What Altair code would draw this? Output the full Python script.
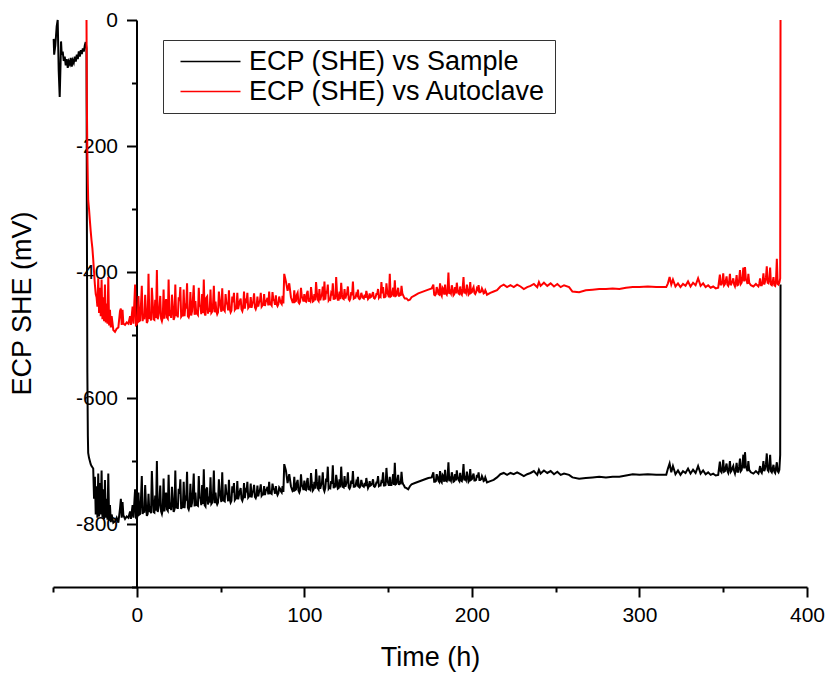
import altair as alt
import pandas as pd

FONT = "Liberation Sans"
SERIES = ["ECP (SHE) vs Sample", "ECP (SHE) vs Autoclave"]
COLORS = ["#000000", "#ff0000"]

x_ticks = [-50, 0, 50, 100, 150, 200, 250, 300, 350, 400]
y_ticks = [-900, -800, -700, -600, -500, -400, -300, -200, -100, 0]

# --- pre-heating part (sample electrode only) ---
hours_pre = [-49.6, -49.3, -48.6, -47.8, -47.2, -46.6, -46.0, -45.5, -45.2, -44.8, -44.2, -43.6,
             -43.0, -42.4, -41.8, -41.2, -40.6, -40.0, -39.4, -38.8, -38.2, -37.6, -37.0, -36.4,
             -35.8, -35.2, -34.6, -34.0, -33.4, -32.8, -32.2, -31.6, -31.0, -30.5]
sample_pre = [-30, -55, -40, -10, 0, -80, -122, -70, -34, -55, -50, -65,
              -58, -72, -62, -76, -66, -70, -60, -74, -64, -68, -58, -66,
              -55, -62, -50, -58, -48, -54, -45, -50, -40, -35]

# --- drop (-30 h .. 0 h) ---
hours_drop = [-30.0, -29.8, -29.5, -29.2, -29.0, -28.5, -28.0, -27.5, -27.0, -26.5,
              -26.0, -25.5, -25.0, -24.5, -24.0, -23.5, -23.0, -22.5, -22.0, -21.5,
              -21.0, -20.5, -20.0, -19.5, -19.0, -18.5, -18.0, -17.5, -17.0, -16.5,
              -16.0, -15.5, -15.0, -14.0, -13.0, -12.0, -11.0, -10.0, -9.5, -9.0,
              -8.5, -8.0, -7.0, -6.0, -5.0, -4.0, -3.5, -2.5, -2.0, -1.0, -0.5, 0.0]
sample_drop = [-45, -300, -560, -660, -687, -695, -700, -705, -708, -710,
               -712, -760, -725, -785, -740, -790, -720, -788, -735, -785,
               -715, -790, -745, -792, -730, -790, -760, -793, -720, -795,
               -770, -797, -785, -798, -796, -790, -798, -775, -760, -790,
               -765, -786, -792, -788, -790, -780, -792, -770, -790, -745, -790, -792]
autoclave_drop = [0, -130, -210, -260, -286, -300, -318, -335, -350, -362,
                  -380, -400, -420, -435, -440, -455, -410, -465, -425, -470,
                  -412, -475, -440, -478, -420, -480, -450, -482, -408, -485,
                  -460, -488, -470, -492, -495, -490, -488, -462, -458, -484,
                  -460, -482, -484, -480, -482, -470, -484, -455, -482, -420, -484, -483]

# --- 1 h .. 92 h (hourly readings) ---
hours_early = [1, 2, 3, 4, 5, 6, 7, 8, 9, 10, 11, 12, 13, 14, 15, 16, 17, 18, 19, 20,
               21, 22, 23, 24, 25, 26, 27, 28, 29, 30, 31, 32, 33, 34, 35, 36, 37, 38, 39, 40,
               41, 42, 43, 44, 45, 46, 47, 48, 49, 50, 51, 52, 53, 54, 55, 56, 57, 58, 59, 60,
               61, 62, 63, 64, 65, 66, 67, 68, 69, 70, 71, 72, 73, 74, 75, 76, 77, 78, 79, 80,
               81, 82, 83, 84, 85, 86, 87, 88, 89, 90, 91, 92]
sample_early = [-750, -784, -724, -778, -738, -787, -752, -772, -716, -781,
                -755, -700, -774, -739, -784, -728, -763, -777, -722, -766,
                -741, -781, -715, -770, -744, -729, -773, -733, -758, -717,
                -777, -736, -766, -720, -750, -770, -724, -759, -738, -713,
                -772, -742, -762, -726, -766, -715, -750, -769, -729, -758,
                -718, -763, -737, -752, -730, -766, -740, -735, -760, -732,
                -754, -743, -763, -735, -747, -733, -756, -736, -750, -738,
                -759, -739, -749, -737, -753, -740, -747, -741, -733, -751,
                -736, -745, -740, -754, -742, -748, -740, -705, -715, -735,
                -721, -740]
autoclave_early = [-438, -477, -422, -467, -436, -481, -403, -470, -425, -475,
                   -444, -397, -469, -438, -478, -428, -457, -472, -412, -461,
                   -436, -476, -420, -465, -440, -424, -469, -428, -453, -418,
                   -472, -432, -462, -421, -446, -466, -425, -455, -435, -412,
                   -469, -439, -458, -428, -463, -422, -447, -467, -431, -456,
                   -426, -460, -435, -450, -429, -464, -439, -433, -458, -433,
                   -452, -442, -462, -431, -446, -433, -455, -440, -450, -434,
                   -459, -439, -448, -433, -453, -435, -447, -441, -431, -451,
                   -432, -445, -437, -454, -439, -449, -438, -403, -415, -430,
                   -418, -440]

# --- 0.5 h .. 87.5 h (readings between the hourly ones) ---
hours_early_b = [0.5, 1.5, 2.5, 3.5, 4.5, 5.5, 6.5, 7.5, 8.5, 9.5, 10.5, 11.5, 12.5, 13.5, 14.5,
                 15.5, 16.5, 17.5, 18.5, 19.5, 20.5, 21.5, 22.5, 23.5, 24.5, 25.5, 26.5, 27.5,
                 28.5, 29.5, 30.5, 31.5, 32.5, 33.5, 34.5, 35.5, 36.5, 37.5, 38.5, 39.5, 40.5,
                 41.5, 42.5, 43.5, 44.5, 45.5, 46.5, 47.5, 48.5, 49.5, 50.5, 51.5, 52.5, 53.5,
                 54.5, 55.5, 56.5, 57.5, 58.5, 59.5, 60.5, 61.5, 62.5, 63.5, 64.5, 65.5, 66.5,
                 67.5, 68.5, 69.5, 70.5, 71.5, 72.5, 73.5, 74.5, 75.5, 76.5, 77.5, 78.5, 79.5,
                 80.5, 81.5, 82.5, 83.5, 84.5, 85.5, 86.5, 87.5]
sample_early_b = [-786, -785, -760, -784, -782, -770, -784, -781, -783, -755, -782, -779, -781,
                  -765, -780, -777, -780, -750, -779, -776, -778, -762, -777, -775, -776, -752,
                  -776, -773, -775, -760, -774, -771, -773, -748, -772, -770, -771, -758, -770,
                  -768, -770, -745, -769, -766, -768, -755, -767, -765, -766, -748, -765, -762,
                  -764, -752, -764, -761, -763, -750, -762, -759, -761, -748, -760, -758, -759,
                  -750, -758, -756, -758, -748, -757, -755, -756, -746, -755, -753, -754, -745,
                  -753, -751, -752, -744, -752, -750, -751, -744, -750, -749]
autoclave_early_b = [-479, -478, -452, -478, -475, -462, -478, -474, -477, -448, -476, -473,
                     -475, -458, -474, -472, -474, -443, -474, -470, -473, -456, -472, -470,
                     -472, -446, -471, -469, -470, -455, -470, -467, -469, -443, -468, -466,
                     -468, -453, -467, -465, -466, -441, -466, -463, -465, -452, -464, -462,
                     -464, -444, -463, -460, -462, -450, -461, -459, -461, -448, -460, -458,
                     -459, -446, -459, -456, -458, -449, -457, -455, -457, -447, -456, -455,
                     -455, -446, -455, -452, -454, -445, -453, -451, -453, -444, -452, -451,
                     -451, -445, -451, -450]

# --- 93 h .. 160 h ---
hours_mid = [93, 94, 95, 96, 97, 98, 99, 100, 101, 102, 103, 104, 105, 106, 107, 108, 109, 110,
             111, 112, 113, 114, 115, 116, 117, 118, 119, 120, 121, 122, 123, 124, 125, 126, 127,
             128, 129, 130, 131, 132, 133, 134, 135, 136, 137, 138, 139, 140, 141, 142, 143, 144,
             145, 146, 147, 148, 149, 150, 151, 152, 153, 154, 155, 156, 157, 158, 159, 160]
sample_mid = [-748, -725, -745, -730, -750, -721, -741, -731, -746, -727,
              -743, -719, -747, -733, -713, -743, -723, -738, -718, -748,
              -728, -709, -742, -732, -707, -739, -722, -744, -729, -709,
              -741, -724, -736, -718, -744, -731, -716, -741, -733, -725,
              -742, -730, -740, -735, -727, -743, -732, -738, -729, -741,
              -734, -724, -739, -732, -718, -739, -711, -735, -725, -738,
              -721, -703, -736, -722, -732, -717, -737, -742]
autoclave_mid = [-448, -429, -446, -433, -450, -425, -442, -435, -447, -430,
                 -444, -424, -447, -435, -416, -444, -427, -439, -423, -415,
                 -430, -420, -443, -434, -418, -440, -408, -444, -431, -417,
                 -442, -427, -437, -423, -445, -432, -415, -441, -435, -428,
                 -443, -433, -441, -436, -430, -443, -434, -439, -432, -442,
                 -435, -427, -439, -416, -424, -440, -418, -436, -403, -438,
                 -425, -413, -437, -425, -433, -422, -437, -442]

hours_mid_b = [93.5, 94.5, 95.5, 96.5, 97.5, 98.5, 99.5, 100.5, 101.5, 102.5, 103.5, 104.5,
               105.5, 106.5, 107.5, 108.5, 109.5, 110.5, 111.5, 112.5, 113.5, 114.5, 115.5,
               116.5, 117.5, 118.5, 119.5, 120.5, 121.5, 122.5, 123.5, 124.5, 125.5, 126.5,
               127.5, 128.5, 129.5, 130.5, 131.5, 132.5, 133.5, 134.5, 135.5, 136.5, 137.5,
               138.5, 139.5, 140.5, 141.5, 142.5, 143.5, 144.5, 145.5, 146.5, 147.5, 148.5,
               149.5, 150.5, 151.5, 152.5, 153.5, 154.5, 155.5, 156.5, 157.5, 158.5, 159.5]
sample_mid_b = [-747, -746, -735, -747, -746, -738, -746, -745, -733, -746, -745, -736,
                -745, -744, -732, -745, -744, -735, -744, -743, -733, -744, -743,
                -736, -743, -742, -732, -743, -742, -735, -742, -741, -733, -742,
                -741, -736, -741, -740, -736, -741, -740, -737, -741, -740, -736,
                -740, -739, -735, -740, -739, -734, -740, -739, -733, -739, -738,
                -731, -739, -738, -732, -738, -737, -730, -738, -737, -733, -739]
autoclave_mid_b = [-448, -447, -436, -448, -447, -439, -447, -446, -434, -447, -446, -437,
                   -446, -445, -433, -446, -445, -436, -445, -444, -434, -445, -444,
                   -437, -444, -443, -433, -444, -443, -436, -443, -442, -434, -443,
                   -442, -437, -442, -441, -437, -442, -441, -438, -442, -441, -437,
                   -441, -440, -436, -441, -440, -435, -441, -440, -434, -440, -439,
                   -432, -440, -439, -433, -439, -438, -431, -439, -438, -434, -440]

# --- calm stretch 161 h .. 176 h ---
hours_calm = [161, 162, 163, 164, 166, 168, 170, 172, 174, 176]
sample_calm = [-743, -745, -740, -737, -735, -733, -731, -729, -727, -726]
autoclave_calm = [-442, -445, -444, -440, -437, -434, -432, -430, -428, -426]

# --- 177 h .. 209 h ---
hours_step = [177, 178, 179, 180, 181, 182, 183, 184, 185, 186, 187, 188, 189, 190, 191, 192, 193,
              194, 195, 196, 197, 198, 199, 200, 201, 202, 203, 204, 205, 206, 207, 208, 209]
sample_step = [-718, -733, -721, -731, -716, -734, -724, -714, -732, -702, -728, -718, -733,
               -721, -715, -730, -719, -732, -705, -727, -717, -733, -713, -729, -720, -731,
               -722, -718, -730, -724, -732, -726, -734]
autoclave_step = [-420, -437, -424, -435, -418, -438, -427, -420, -436, -401, -431, -421, -437,
                  -424, -417, -434, -423, -436, -408, -430, -420, -436, -416, -432, -424, -435,
                  -426, -421, -432, -426, -434, -429, -436]

hours_step_b = [177.5, 178.5, 179.5, 180.5, 181.5, 182.5, 183.5, 184.5, 185.5, 186.5, 187.5,
                188.5, 189.5, 190.5, 191.5, 192.5, 193.5, 194.5, 195.5, 196.5, 197.5, 198.5,
                199.5, 200.5, 201.5, 202.5, 203.5, 204.5, 205.5, 206.5, 207.5, 208.5]
sample_step_b = [-733, -732, -725, -733, -732, -722, -733, -731, -726, -732, -731, -724, -732,
                 -731, -726, -732, -731, -723, -731, -730, -725, -731, -730, -724, -731, -730,
                 -726, -730, -729, -727, -731, -730]
autoclave_step_b = [-436, -435, -428, -436, -435, -425, -436, -434, -429, -435, -434, -427,
                    -435, -434, -429, -435, -434, -426, -434, -433, -428, -434, -433, -427,
                    -433, -432, -428, -432, -431, -429, -433, -432]

# --- 211 h .. 315 h ---
hours_late = [211, 213, 215, 217, 219, 221, 223, 225, 227, 229, 231, 233, 235, 237, 239, 240,
              241, 243, 245, 247, 249, 251, 253, 255, 258, 260, 264, 268, 272, 276, 280, 284,
              288, 292, 296, 300, 305, 310, 315]
sample_late = [-732, -730, -726, -721, -719, -722, -719, -721, -718, -721, -724, -721, -719,
               -716, -722, -714, -720, -715, -719, -716, -721, -717, -722, -720, -722, -726,
               -728, -727, -726, -725, -726, -725, -725, -723, -721, -722, -721, -722, -722]
autoclave_late = [-433, -431, -429, -423, -420, -424, -421, -424, -420, -423, -427, -424, -422,
                  -419, -424, -416, -422, -417, -422, -418, -423, -419, -424, -421, -424, -431,
                  -432, -429, -428, -427, -427, -426, -427, -425, -424, -424, -423, -424, -424]

# --- 316 h .. end ---
hours_end = [316, 317, 318, 319, 320, 321.5, 323, 324.5, 326, 327.5, 329, 330.5, 332, 333.5,
             335, 336.5, 338, 339.5, 341, 342.5, 344, 345.5, 347, 348, 349, 350, 351, 352, 353,
             354, 355, 356, 357, 358, 359, 360, 361, 362, 363, 364, 365, 366.5, 368, 369.5,
             371, 372, 373, 374, 375, 376, 377, 378, 379, 380, 381, 382, 383, 384, 384.2]
sample_end = [-722, -712, -704, -718, -708, -721, -715, -722, -716, -719, -712, -720, -714,
              -719, -708, -720, -715, -721, -718, -722, -720, -723, -722, -701, -718, -698,
              -716, -704, -719, -700, -715, -708, -720, -703, -717, -696, -714, -690, -686,
              -712, -700, -718, -720, -716, -720, -708, -719, -700, -712, -688, -716, -690,
              -718, -706, -719, -702, -718, -690, -420]
autoclave_end = [-424, -418, -408, -420, -412, -423, -418, -424, -419, -422, -415, -423, -417,
                 -421, -410, -422, -418, -424, -421, -425, -423, -426, -425, -404, -420, -402,
                 -419, -407, -422, -403, -418, -410, -423, -405, -420, -397, -417, -393, -392,
                 -414, -403, -421, -423, -419, -423, -410, -421, -402, -415, -391, -418, -393,
                 -421, -408, -422, -379, -420, -410, 0]

hours_end_b = [348.5, 349.5, 350.5, 351.5, 352.5, 353.5, 354.5, 355.5, 356.5, 357.5, 358.5,
               359.5, 360.5, 361.5, 362.5, 363.5, 364.5, 365.5, 371.5, 372.5, 373.5, 374.5,
               375.5, 376.5, 377.5, 378.5, 379.5, 380.5, 381.5, 382.5, 383.5]
sample_end_b = [-716, -712, -717, -710, -716, -712, -717, -711, -716, -713, -717, -709, -716,
                -705, -712, -708, -716, -714, -715, -717, -712, -716, -705, -714, -709, -716,
                -712, -717, -711, -716, -714]
autoclave_end_b = [-420, -416, -421, -414, -420, -416, -421, -415, -420, -417, -421, -412,
                   -419, -408, -415, -411, -419, -417, -419, -421, -416, -420, -409, -417,
                   -412, -420, -416, -421, -414, -419, -417]

regions = [
    (hours_drop, sample_drop, autoclave_drop),
    (hours_early, sample_early, autoclave_early),
    (hours_early_b, sample_early_b, autoclave_early_b),
    (hours_mid, sample_mid, autoclave_mid),
    (hours_mid_b, sample_mid_b, autoclave_mid_b),
    (hours_calm, sample_calm, autoclave_calm),
    (hours_step, sample_step, autoclave_step),
    (hours_step_b, sample_step_b, autoclave_step_b),
    (hours_late, sample_late, autoclave_late),
    (hours_end, sample_end, autoclave_end),
    (hours_end_b, sample_end_b, autoclave_end_b),
]

rows = []
for h, s in zip(hours_pre, sample_pre):
    rows.append({"hours": h, "ecp": s, "series": SERIES[0]})
for hs, ss, aa in regions:
    assert len(hs) == len(ss) == len(aa), (hs[0], len(hs), len(ss), len(aa))
    for h, s, a in zip(hs, ss, aa):
        rows.append({"hours": h, "ecp": s, "series": SERIES[0]})
        rows.append({"hours": h, "ecp": a, "series": SERIES[1]})
df = pd.DataFrame(rows).sort_values("hours").reset_index(drop=True)

x_enc = alt.X(
    "hours:Q",
    scale=alt.Scale(domain=[-50, 400], nice=False, zero=False),
    axis=alt.Axis(
        title="Time (h)",
        values=x_ticks,
        labelExpr="datum.value % 100 == 0 ? toString(datum.value) : ''",
        tickSize={"condition": {"test": "datum.value % 100 == 0", "value": 10}, "value": 5},
        labelPadding=7,
        labelFlush=False,
        titlePadding=19,
    ),
)
y_enc = alt.Y(
    "ecp:Q",
    scale=alt.Scale(domain=[-900, 0], nice=False, zero=False),
    axis=alt.Axis(
        title="ECP SHE (mV)",
        values=y_ticks,
        labelExpr="datum.value % 200 == 0 ? toString(datum.value) : ''",
        tickSize={"condition": {"test": "datum.value % 200 == 0", "value": 10}, "value": 5},
        labelPadding=9,
        labelFlush=False,
        offset=-83.5,
        titleX=-100,
        titleY=283,
        titleBaseline="bottom",
    ),
)
color_enc = alt.Color(
    "series:N",
    scale=alt.Scale(domain=SERIES, range=COLORS),
    legend=alt.Legend(
        title=None,
        orient="none",
        legendX=110,
        legendY=20,
        symbolType="M-3,0H3",
        symbolSize=400,
        symbolStrokeWidth=1.5,
        symbolOffset=26,
        labelOffset=25,
        labelLimit=0,
        labelFont=FONT,
        labelFontSize=27,
        labelColor="#000000",
        rowPadding=2,
        padding=8,
        strokeColor="#333333",
        fillColor="#ffffff",
    ),
)

base = alt.Chart(df).mark_line(strokeWidth=2).encode(
    x=x_enc, y=y_enc, color=color_enc, order="hours:Q"
)
black = base.transform_filter(alt.datum.series == SERIES[0])
red = base.transform_filter(alt.datum.series == SERIES[1])

chart = (
    alt.layer(black, red)
    .properties(
        width=754,
        height=567,
        padding={"left": 53, "top": 20, "right": 22, "bottom": 87},
        autosize=alt.AutoSizeParams(type="none"),
        background="#ffffff",
    )
    .configure_view(stroke=None)
    .configure_axis(
        grid=False,
        domainColor="#000000",
        domainWidth=2,
        tickColor="#000000",
        tickWidth=2,
        labelFont=FONT,
        labelFontSize=21,
        labelColor="#000000",
        titleFont=FONT,
        titleFontSize=27,
        titleFontWeight="normal",
        titleColor="#000000",
    )
)

chart.save("out.html", embed_options={"renderer": "svg", "actions": False})
